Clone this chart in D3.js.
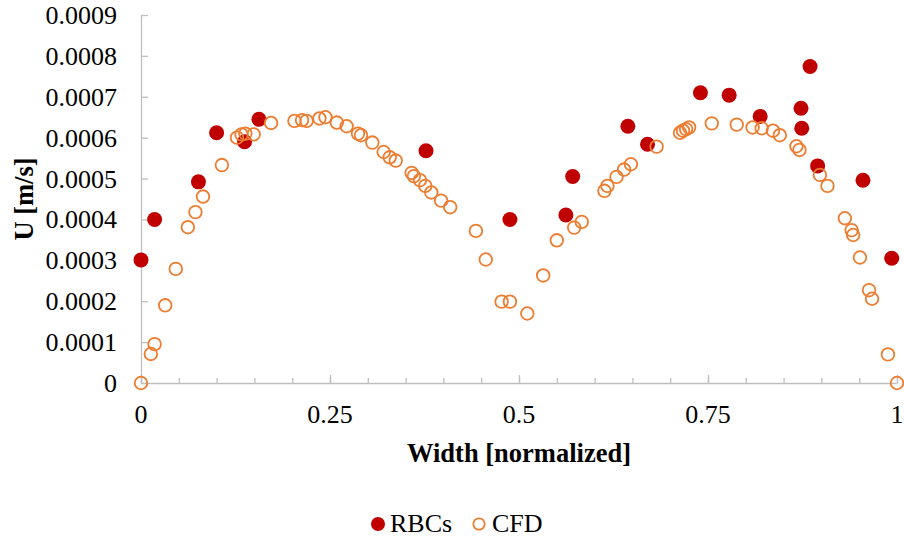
<!DOCTYPE html>
<html>
<head>
    <meta charset="utf-8">
    <title>U vs width</title>
    <script src="https://d3js.org/d3.v7.min.js"></script>
    <style>
        body { margin: 0; background: #fff; }
        text { font-family: "Liberation Serif", "Times New Roman", serif; fill: #000; }
    </style>
</head>
<body>
<div id="chart"></div>
<script type="text/javascript">
    // RBCs (measured) - filled red markers
    let rbcX = [0, 0.018, 0.076, 0.100, 0.137, 0.156, 0.377, 0.488, 0.562, 0.571,
                0.644, 0.670, 0.740, 0.778, 0.819, 0.873, 0.874, 0.885, 0.895, 0.955, 0.993];
    let rbcU = [0.000301, 0.0004, 0.000492, 0.000612, 0.00059, 0.000645, 0.000568, 0.0004, 0.000411, 0.000505,
                0.000628, 0.000584, 0.00071, 0.000704, 0.000652, 0.000672, 0.000623, 0.000774, 0.000531, 0.000496, 0.000305];

    // CFD - open orange markers
    let cfdX = [0, 0.013, 0.018, 0.032, 0.046, 0.062, 0.072, 0.082, 0.107, 0.127,
                0.133, 0.138, 0.149, 0.172, 0.203, 0.213, 0.219, 0.236, 0.244, 0.259,
                0.272, 0.287, 0.291, 0.306, 0.321, 0.329, 0.337, 0.358, 0.361, 0.369,
                0.376, 0.384, 0.397, 0.409, 0.443, 0.456, 0.477, 0.488, 0.511, 0.532,
                0.550, 0.573, 0.583, 0.613, 0.617, 0.629, 0.639, 0.648, 0.682, 0.713,
                0.717, 0.721, 0.725, 0.755, 0.788, 0.809, 0.821, 0.836, 0.845, 0.867,
                0.871, 0.898, 0.908, 0.931, 0.940, 0.942, 0.951, 0.963, 0.967, 0.988, 1];
    let cfdU = [0, 0.000071, 0.000095, 0.00019, 0.000279, 0.000381, 0.000418, 0.000456, 0.000533, 0.0006,
                0.000608, 0.00061, 0.000608, 0.000636, 0.000641, 0.000643, 0.000641, 0.000647, 0.00065, 0.000637,
                0.000628, 0.00061, 0.000606, 0.000588, 0.000565, 0.000552, 0.000544, 0.000514, 0.000506, 0.000496,
                0.000482, 0.000466, 0.000446, 0.00043, 0.000372, 0.000302, 0.000199, 0.000199, 0.00017, 0.000263,
                0.000349, 0.00038, 0.000394, 0.00047, 0.000482, 0.000504, 0.000522, 0.000535, 0.000578, 0.000612,
                0.000617, 0.000621, 0.000625, 0.000635, 0.000632, 0.000625, 0.000623, 0.000617, 0.000606, 0.000579,
                0.00057, 0.000509, 0.000482, 0.000403, 0.000374, 0.000362, 0.000307, 0.000227, 0.000206, 0.00007, 0];

    let xTicks = [0, 0.25, 0.5, 0.75, 1];
    let xMinorTicks = d3.range(0, 21).map(function(i){ return i / 20; });
    let yTicks = [0, 0.0001, 0.0002, 0.0003, 0.0004, 0.0005, 0.0006, 0.0007, 0.0008, 0.0009];

    let width = 904, height = 540;
    let margin = {top: 15, right: 7, bottom: 157, left: 141};
    let w = width - margin.left - margin.right;
    let h = height - margin.top - margin.bottom;

    let svg = d3.select("#chart")
            .append("svg")
                .attr("width", width)
                .attr("height", height);

    let g = svg.append("g")
            .attr("transform", "translate(" + margin.left + "," + margin.top + ")");

    let xScale = d3.scaleLinear().domain([0, 1]).range([0, w]);
    let yScale = d3.scaleLinear().domain([0, 0.0009]).range([h, 0]);

    // y axis: ticks point inward (right)
    let yAxis = d3.axisRight(yScale)
            .tickValues(yTicks)
            .tickSize(7)
            .tickFormat("");
    let yG = g.append("g").call(yAxis);
    yG.select(".domain").attr("stroke", "#bfbfbf").attr("stroke-width", 1.3).attr("d", "M0.5," + h + "V0");
    yG.selectAll(".tick line").attr("stroke", "#bfbfbf").attr("stroke-width", 1.3);

    g.selectAll(".ylab")
        .data(yTicks)
        .enter()
        .append("text")
        .attr("class", "ylab")
        .attr("x", -24)
        .attr("y", function(d){ return yScale(d) + 9; })
        .attr("text-anchor", "end")
        .attr("font-size", "26px")
        .text(function(d){ return d === 0 ? "0" : d.toFixed(4); });

    // x axis: minor and major ticks point inward (up)
    let xMinor = d3.axisTop(xScale)
            .tickValues(xMinorTicks)
            .tickSize(5)
            .tickSizeOuter(0)
            .tickFormat("");
    let xMinG = g.append("g").attr("transform", "translate(0," + h + ")").call(xMinor);
    xMinG.select(".domain").attr("stroke", "#bfbfbf").attr("stroke-width", 1.3);
    xMinG.selectAll(".tick line").attr("stroke", "#bfbfbf").attr("stroke-width", 1.3);

    let xMajor = d3.axisTop(xScale)
            .tickValues(xTicks)
            .tickSize(8)
            .tickSizeOuter(0)
            .tickFormat("");
    let xMajG = g.append("g").attr("transform", "translate(0," + h + ")").call(xMajor);
    xMajG.select(".domain").remove();
    xMajG.selectAll(".tick line").attr("stroke", "#bfbfbf").attr("stroke-width", 1.3);

    g.selectAll(".xlab")
        .data(xTicks)
        .enter()
        .append("text")
        .attr("class", "xlab")
        .attr("x", function(d){ return xScale(d); })
        .attr("y", h + 40)
        .attr("text-anchor", "middle")
        .attr("font-size", "26px")
        .text(function(d){ return String(d); });

    // markers: RBCs first, CFD on top
    let rbcData = rbcX.map(function(x, i){ return [x, rbcU[i]]; });
    let cfdData = cfdX.map(function(x, i){ return [x, cfdU[i]]; });

    g.selectAll(".rbc")
        .data(rbcData)
        .enter()
        .append("circle")
        .attr("class", "rbc")
        .attr("cx", function(d){ return xScale(d[0]); })
        .attr("cy", function(d){ return yScale(d[1]); })
        .attr("r", 7.5)
        .attr("fill", "#c00000");

    g.selectAll(".cfd")
        .data(cfdData)
        .enter()
        .append("circle")
        .attr("class", "cfd")
        .attr("cx", function(d){ return xScale(d[0]); })
        .attr("cy", function(d){ return yScale(d[1]); })
        .attr("r", 6.3)
        .attr("fill", "none")
        .attr("stroke", "#ed7d31")
        .attr("stroke-width", 1.8);

    // Axis titles
    svg.append("text")
        .attr("x", margin.left + w / 2)
        .attr("y", 462)
        .attr("text-anchor", "middle")
        .attr("font-size", "26.5px")
        .attr("font-weight", "bold")
        .text("Width [normalized]");

    svg.append("text")
        .attr("transform", "translate(33," + (margin.top + h / 2) + ") rotate(-90)")
        .attr("text-anchor", "middle")
        .attr("font-size", "26.5px")
        .attr("font-weight", "bold")
        .text("U [m/s]");

    // Legend
    let legend = svg.append("g");
    legend.append("circle")
        .attr("cx", 378).attr("cy", 524).attr("r", 7)
        .attr("fill", "#c00000");
    legend.append("text")
        .attr("x", 390).attr("y", 532)
        .attr("font-size", "26px")
        .text("RBCs");
    legend.append("circle")
        .attr("cx", 479).attr("cy", 524).attr("r", 5.7)
        .attr("fill", "none")
        .attr("stroke", "#ed7d31")
        .attr("stroke-width", 1.8);
    legend.append("text")
        .attr("x", 492).attr("y", 532)
        .attr("font-size", "26px")
        .text("CFD");
</script>
</body>
</html>
